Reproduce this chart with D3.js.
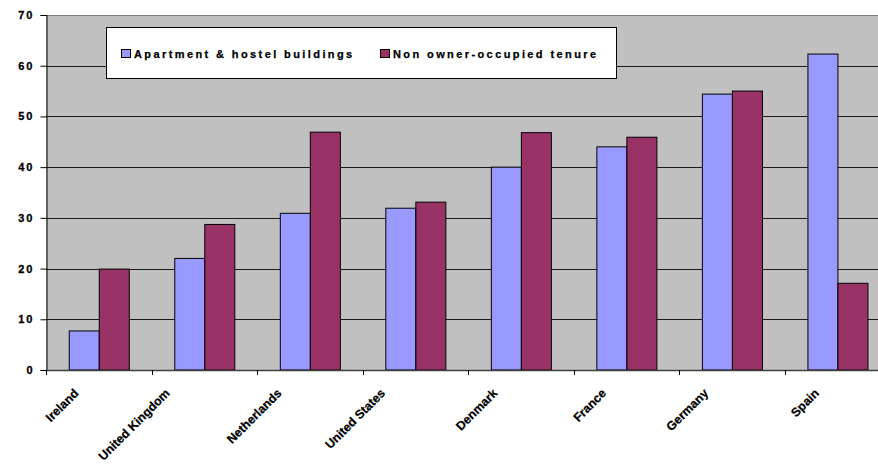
<!DOCTYPE html>
<html><head><meta charset="utf-8">
<script src="https://cdn.jsdelivr.net/npm/d3@7"></script>
<style>
body{margin:0;background:#fff;}
svg{display:block;font-family:"Liberation Sans",Arial,sans-serif;}
</style></head>
<body><svg id="c" width="878" height="464"></svg>
<script>
const categories = ["Ireland","United Kingdom","Netherlands","United States","Denmark","France","Germany","Spain"];
const seriesNames = ["Apartment & hostel buildings","Non owner-occupied tenure"];
const apartment = [7.7, 22.0, 30.9, 31.9, 40.0, 44.0, 54.4, 62.3];
const nonOwner = [19.9, 28.7, 46.9, 33.1, 46.8, 45.9, 55.0, 17.1];
const yTicks = [0,10,20,30,40,50,60,70];
const colors = ["#9999FF","#993366"];

const svg = d3.select("#c");
const L = 46, R = 890.2, T = 15, B = 370;

const x0 = d3.scaleBand().domain(categories).range([L, R]).padding(0);
const x1 = d3.scaleBand().domain(seriesNames).range([0, x0.bandwidth()]).paddingInner(0).paddingOuter(0.758);
const y = d3.scaleLinear().domain([0,70]).range([B, T]);

// plot background
svg.append("rect").attr("x", L).attr("y", T).attr("width", R - L).attr("height", B - T).attr("fill", "#C0C0C0");
svg.append("line").attr("x1", L).attr("x2", R).attr("y1", T + 0.5).attr("y2", T + 0.5).attr("stroke", "#808080");

// gridlines
svg.append("g").selectAll("line").data(yTicks.filter(d => d > 0 && d < 70)).join("line")
  .attr("x1", L).attr("x2", R)
  .attr("y1", d => Math.round(y(d)) + 0.5).attr("y2", d => Math.round(y(d)) + 0.5)
  .attr("stroke", "#1a1a1a").attr("stroke-width", 1);

// bars
const data = categories.map((c, i) => ({c, vals: [apartment[i], nonOwner[i]]}));
const g = svg.append("g").selectAll("g").data(data).join("g")
  .attr("transform", d => `translate(${x0(d.c)},0)`);
g.selectAll("rect").data(d => d.vals.map((v, j) => ({v, s: seriesNames[j], j}))).join("rect")
  .attr("x", d => x1(d.s) + 0.5)
  .attr("width", x1.bandwidth())
  .attr("y", d => y(d.v))
  .attr("height", d => B - y(d.v))
  .attr("fill", d => colors[d.j])
  .attr("stroke", "#000").attr("stroke-width", 1);

// y axis
const yAxis = svg.append("g").attr("transform", `translate(${L + 0.5},0)`)
  .call(d3.axisLeft(y).tickValues(yTicks).tickSize(6).tickPadding(8).tickFormat(d3.format("d")));
yAxis.select(".domain").attr("stroke", "#000");
yAxis.selectAll(".tick line").attr("stroke", "#000");
yAxis.selectAll("text").attr("font-family", "'Liberation Sans',Arial,sans-serif")
  .attr("font-size", 11).attr("font-weight", "bold").attr("fill", "#000")
  .attr("stroke", "#000").attr("stroke-width", 0.3)
  .style("letter-spacing", "2px").attr("dx", "2");

// x axis
svg.append("line").attr("x1", L).attr("x2", R).attr("y1", B + 0.5).attr("y2", B + 0.5).attr("stroke", "#404040").attr("stroke-width", 1.5);
const bounds = categories.map(c => x0(c)).concat([R]);
svg.append("g").selectAll("line").data(bounds).join("line")
  .attr("x1", d => Math.round(d) + 0.5).attr("x2", d => Math.round(d) + 0.5)
  .attr("y1", B).attr("y2", B + 5).attr("stroke", "#000");
const xl = svg.append("g").selectAll("text").data(categories).join("text")
  .attr("text-anchor", "end")
  .attr("font-size", 12.3).attr("font-weight", "bold").attr("fill", "#000")
  .attr("stroke", "#000").attr("stroke-width", 0.25)
  .text(c => c);
xl.each(function(c) {
  const w = this.getComputedTextLength();
  const tx = x0(c) + x0.bandwidth() / 2 - (9 + 0.26 * w);
  d3.select(this).attr("transform", `translate(${tx},${B + 24}) rotate(-45)`);
});

// legend
const lg = svg.append("g");
lg.append("rect").attr("x", 106.5).attr("y", 27.5).attr("width", 510).attr("height", 51)
  .attr("fill", "#fff").attr("stroke", "#000").attr("stroke-width", 1);
const legX = [121.5, 380.5];
seriesNames.forEach((s, i) => {
  lg.append("rect").attr("x", legX[i]).attr("y", 49.5).attr("width", 9).attr("height", 8)
    .attr("fill", colors[i]).attr("stroke", "#000").attr("stroke-width", 1);
  lg.append("text").attr("x", legX[i] + 12.5).attr("y", 57.5)
    .attr("font-size", 11).attr("font-weight", "bold").attr("fill", "#000")
    .attr("stroke", "#000").attr("stroke-width", 0.25)
    .style("letter-spacing", "2.4px").text(s);
});
</script></body></html>
